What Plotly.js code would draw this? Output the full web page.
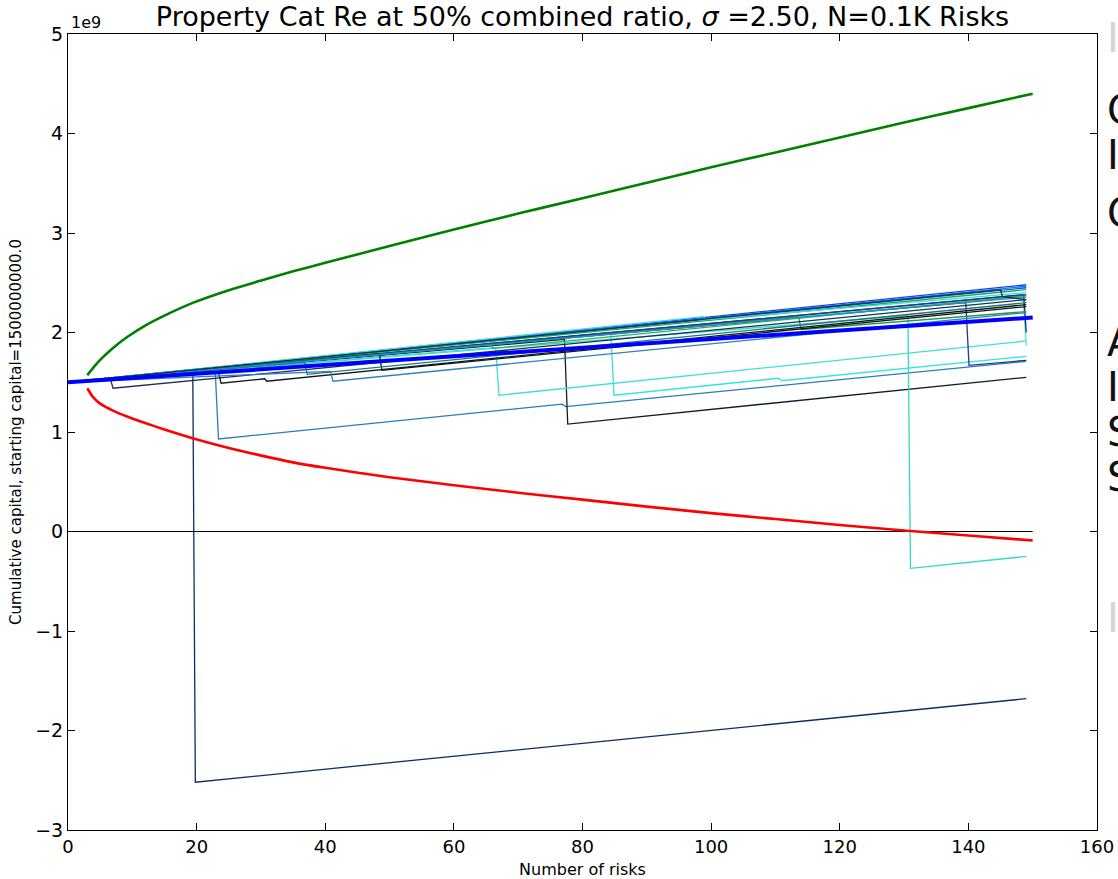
<!DOCTYPE html>
<html>
<head>
<meta charset="utf-8">
<script src="https://cdn.plot.ly/plotly-3.0.1.min.js"></script>
<style>html,body{margin:0;padding:0;background:#fff;overflow:hidden}#chart{width:1118px;height:879px}</style>
</head>
<body>
<div id="chart"></div>
<script>
// ---- data (capital in units of 1e9) ----
const boundX = [3,3.9,5,7,9.2,12,15,19.5,25,29.9,35,40,50,60,70,80,90,100,110,120,130,140,150];
const upperBound = [1.57,1.645,1.725,1.845,1.955,2.07,2.17,2.30,2.425,2.52,2.615,2.70,2.87,3.035,3.195,3.35,3.505,3.66,3.81,3.96,4.11,4.255,4.40];
const lowerBound = [1.44,1.35,1.285,1.215,1.155,1.09,1.025,0.935,0.84,0.765,0.695,0.64,0.545,0.465,0.39,0.32,0.25,0.185,0.125,0.065,0.01,-0.04,-0.09];
const meanX = [0,50,100,150];
const meanY = [1.5,1.717,1.933,2.15];
const zeroX = [0,150];
const zeroY = [0,0];

const path01X = [0,19.4,19.8,149];            const path01Y = [1.5,1.625,-2.52,-1.68];
const path02X = [0,22.9,23.4,76.8,77.4,149];  const path02Y = [1.5,1.60,0.93,1.28,1.255,1.71];
const path03X = [0,77.2,77.7,149];            const path03Y = [1.5,1.93,1.08,1.55];
const path04X = [0,130.6,131.0,149];          const path04Y = [1.5,2.17,-0.37,-0.25];
const path05X = [0,66.5,67.0,149];            const path05Y = [1.5,1.85,1.37,1.915];
const path06X = [0,84.4,84.9,110.5,111.0,149];const path06Y = [1.5,2.00,1.37,1.54,1.515,1.76];
const path07X = [0,139.6,140.1,149];          const path07Y = [1.5,2.30,1.67,1.72];
const path08X = [0,148.5,149];                const path08Y = [1.5,2.36,1.87];
const path09X = [0,148.6,149];                const path09Y = [1.5,2.38,2.00];
const path10X = [0,113.6,114.0,149];          const path10Y = [1.5,2.16,2.03,2.21];
const path11X = [0,6.6,7.0,149];              const path11Y = [1.5,1.53,1.44,2.33];
const path12X = [0,23.4,23.8,30.6,30.9,149];  const path12Y = [1.5,1.60,1.49,1.535,1.51,2.28];
const path13X = [0,48.4,48.8,149];            const path13Y = [1.5,1.79,1.62,2.26];
const path14X = [0,40.8,41.2,149];            const path14Y = [1.5,1.61,1.51,2.20];
const path15X = [0,36.8,37.2,149];            const path15Y = [1.5,1.70,1.58,2.30];
const path16X = [0,65.6,66.0,149];            const path16Y = [1.5,1.92,1.84,2.37];
const path17X = [0,149];                      const path17Y = [1.5,2.48];
const path18X = [0,149];                      const path18Y = [1.5,2.465];
const path19X = [0,149];                      const path19Y = [1.5,2.45];
const path20X = [0,149];                      const path20Y = [1.5,2.43];
const path21X = [0,98.8,99.1,149];            const path21Y = [1.5,2.16,2.13,2.40];
const path22X = [0,149];                      const path22Y = [1.5,2.38];
const path23X = [0,149];                      const path23Y = [1.5,2.355];
const path24X = [0,145.0,145.3,149];          const path24Y = [1.5,2.43,2.36,2.33];

const xTicks = [0,20,40,60,80,100,120,140,160];
const yTicks = [-3,-2,-1,0,1,2,3,4,5];
const sideLabels = ['Capital','Iterations','CV','Average','Insolvency','Std','Skew'];

// ---- styles ----
const paths = [
  [path01X,path01Y,'#0e2c5e'],[path02X,path02Y,'#2b7bba'],[path03X,path03Y,'#0e1f28'],
  [path04X,path04Y,'#2fdcc0'],[path05X,path05Y,'#3fe0d4'],[path06X,path06Y,'#2ee6dc'],
  [path07X,path07Y,'#1b3a8c'],[path08X,path08Y,'#48e6e0'],[path09X,path09Y,'#14306e'],
  [path10X,path10Y,'#1f9c48'],[path11X,path11Y,'#1b2f55'],[path12X,path12Y,'#101820'],
  [path13X,path13Y,'#0a1a1a'],[path14X,path14Y,'#2f80c0'],[path15X,path15Y,'#177a78'],
  [path16X,path16Y,'#22b060'],[path17X,path17Y,'#0a40ff'],[path18X,path18Y,'#1e78ff'],
  [path19X,path19Y,'#0060e0'],[path20X,path20Y,'#1aa85a'],[path21X,path21Y,'#3fd8e0'],
  [path22X,path22Y,'#22408a'],[path23X,path23Y,'#2090c0'],[path24X,path24Y,'#103040']
];

const traces = [];
traces.push({x:zeroX,y:zeroY,mode:'lines',line:{color:'#000',width:1},hoverinfo:'skip'});
paths.forEach(p => traces.push({x:p[0],y:p[1],mode:'lines',line:{color:p[2],width:1.3},hoverinfo:'skip'}));
traces.push({x:boundX,y:lowerBound,mode:'lines',line:{color:'#ff0000',width:2.6,shape:'spline',smoothing:0.6},hoverinfo:'skip'});
traces.push({x:boundX,y:upperBound,mode:'lines',line:{color:'#008000',width:2.6,shape:'spline',smoothing:0.6},hoverinfo:'skip'});
traces.push({x:meanX,y:meanY,mode:'lines',line:{color:'#0000ff',width:4},hoverinfo:'skip'});

const font = 'DejaVu Sans, Liberation Sans, sans-serif';
const annotations = [
  {xref:'paper',yref:'paper',x:0.0,y:1.0,xanchor:'left',yanchor:'bottom',text:'1e9',showarrow:false,font:{family:font,size:16,color:'#000'},xshift:1}
];
const sideY = [110,155,213,342,387,432,477];
sideLabels.forEach((t,i) => annotations.push({
  xref:'paper',yref:'paper',x:1.0075,y:(830-sideY[i])/796,xanchor:'left',yanchor:'middle',
  text:t,showarrow:false,font:{family:font,size:40,color:'#111'}
}));
[38,618].forEach(yy => annotations.push({
  xref:'paper',yref:'paper',x:1.0075,y:(830-yy)/796,xanchor:'left',yanchor:'middle',
  text:'I',showarrow:false,font:{family:font,size:40,color:'#d4d4d4'}
}));

const axisCommon = {showgrid:false,zeroline:false,showline:true,linecolor:'#000',linewidth:1,mirror:'ticks',
  ticks:'inside',ticklen:7,tickcolor:'#000'};

const layout = {
  width:1118,height:879,paper_bgcolor:'#fff',plot_bgcolor:'#fff',showlegend:false,
  margin:{l:68,r:21,t:34,b:49,pad:0},
  title:{text:'Property Cat Re at 50% combined ratio, <i>σ</i> =2.50, N=0.1K Risks',font:{family:font,size:27,color:'#000'},
    xref:'paper',x:0.5,xanchor:'center',yref:'container',y:1-17/879,yanchor:'middle'},
  xaxis:Object.assign({},axisCommon,{range:[0,160],tickvals:xTicks,ticktext:xTicks.map(String),
    tickfont:{family:font,size:18,color:'#000'},
    title:{text:'Number of risks',font:{family:font,size:16,color:'#000'},standoff:8}}),
  yaxis:Object.assign({},axisCommon,{range:[-3,5],tickvals:yTicks,
    tickfont:{family:font,size:19,color:'#000'},
    title:{text:'Cumulative capital, starting capital=1500000000.0',font:{family:font,size:15,color:'#000'},standoff:9}}),
  annotations:annotations
};
Plotly.newPlot('chart',traces,layout,{staticPlot:true,displayModeBar:false});
</script>
</body>
</html>
